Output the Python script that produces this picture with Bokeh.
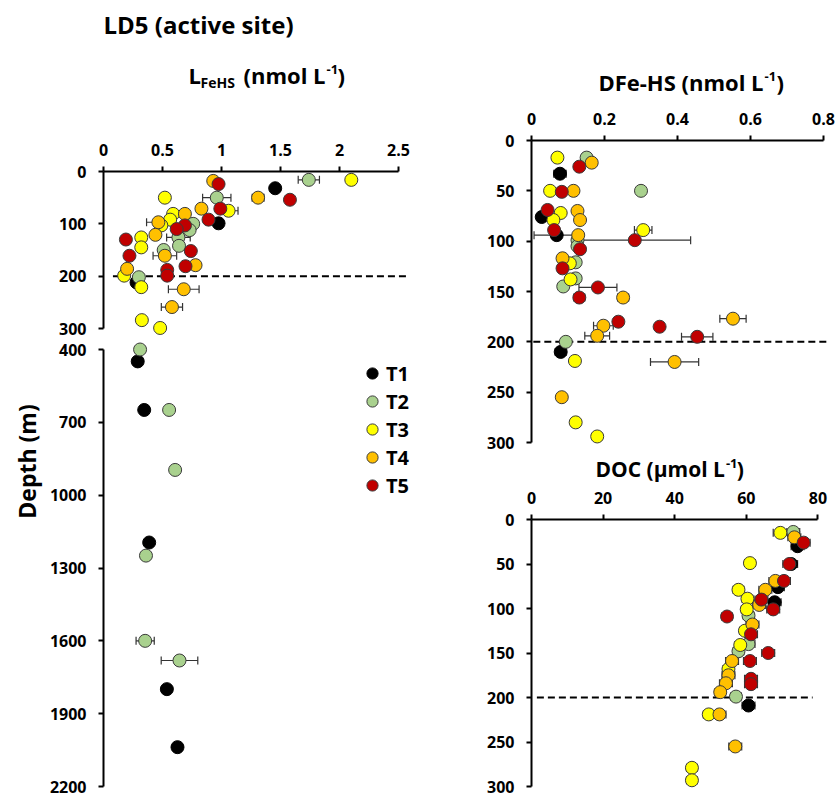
import math
from bokeh.plotting import figure
from bokeh.layouts import row, column
from bokeh.models import (Range1d, FixedTicker, NumeralTickFormatter, ColumnDataSource,
                          Whisker, TeeHead, Label, Legend, LegendItem)
from bokeh.embed import file_html
from bokeh.resources import INLINE

# ---------------- data ----------------
SERIES = ["T1", "T2", "T3", "T4", "T5"]
COLORS = ["#000000", "#a9d18e", "#ffff00", "#ffc000", "#c00000"]
REF_DEPTH = 200

# L_FeHS (nmol/L)
L_T1_depth = [32, 99, 212, 449, 649, 1195, 1799, 2038]
L_T1_val = [1.455, 0.975, 0.28, 0.29, 0.345, 0.387, 0.537, 0.627]
L_T1_err = [0, 0, 0, 0, 0, 0, 0, 0]
L_T2_depth = [16, 50, 100, 112, 126, 142, 150, 202, 400, 649, 896, 1249, 1600, 1681]
L_T2_val = [1.74, 0.96, 0.76, 0.73, 0.635, 0.64, 0.51, 0.30, 0.31, 0.556, 0.607, 0.36, 0.353, 0.644]
L_T2_err = [0.09, 0.12, 0, 0, 0.10, 0, 0, 0, 0, 0, 0, 0.03, 0.077, 0.155]
L_T3_depth = [16, 50, 75, 81, 92, 103, 126, 145, 199, 221, 284, 299]
L_T3_val = [2.10, 0.52, 1.06, 0.59, 0.565, 0.49, 0.32, 0.32, 0.175, 0.32, 0.325, 0.48]
L_T3_err = [0, 0, 0.08, 0, 0, 0, 0, 0, 0, 0, 0, 0]
L_T4_depth = [18, 50, 71, 81, 97, 121, 161, 179, 186, 225, 259]
L_T4_val = [0.93, 1.31, 0.83, 0.69, 0.465, 0.44, 0.52, 0.78, 0.20, 0.68, 0.58]
L_T4_err = [0, 0.05, 0, 0, 0.10, 0, 0.10, 0, 0, 0.13, 0.09]
L_T5_depth = [24, 54, 71, 92, 103, 110, 130, 152, 161, 181, 188, 199]
L_T5_val = [0.975, 1.58, 0.99, 0.89, 0.69, 0.62, 0.19, 0.74, 0.22, 0.695, 0.54, 0.54]
L_T5_err = [0, 0, 0, 0, 0, 0, 0, 0, 0, 0, 0, 0]

# DFe-HS (nmol/L)
D_T1_depth = [33, 76, 94, 210]
D_T1_val = [0.078, 0.028, 0.069, 0.080]
D_T1_err = [0.017, 0.012, 0.062, 0.015]
D_T2_depth = [17, 50, 99, 105, 121, 137, 145, 200]
D_T2_val = [0.151, 0.30, 0.126, 0.126, 0.121, 0.121, 0.087, 0.094]
D_T2_err = [0, 0, 0, 0, 0, 0, 0, 0]
D_T3_depth = [17, 50, 72, 79, 89, 122, 138, 219, 280, 294]
D_T3_val = [0.071, 0.051, 0.08, 0.06, 0.306, 0.105, 0.107, 0.119, 0.121, 0.18]
D_T3_err = [0, 0, 0, 0, 0.024, 0, 0, 0, 0, 0]
D_T4_depth = [22, 50, 70, 79, 94, 117, 156, 177, 184, 194, 220, 255]
D_T4_val = [0.165, 0.115, 0.126, 0.133, 0.128, 0.085, 0.251, 0.552, 0.197, 0.18, 0.392, 0.083]
D_T4_err = [0, 0, 0, 0, 0, 0, 0.015, 0.036, 0.027, 0.034, 0.066, 0]
D_T5_depth = [26, 51, 69, 89, 99, 108, 127, 146, 156, 180, 185, 195]
D_T5_val = [0.131, 0.083, 0.044, 0.062, 0.283, 0.133, 0.085, 0.182, 0.131, 0.238, 0.351, 0.454]
D_T5_err = [0, 0, 0, 0, 0.153, 0, 0, 0.052, 0.015, 0, 0, 0.043]

# DOC (umol/L)
C_T1_depth = [30, 50, 76, 93, 209]
C_T1_val = [74.3, 72.5, 68.8, 67.9, 60.6]
C_T1_err = [1.8, 1.8, 1.8, 1.8, 1.8]
C_T2_depth = [14, 108, 140, 148, 199]
C_T2_val = [73.1, 60.6, 60.6, 57.8, 57.1]
C_T2_err = [1.8, 1.5, 1.8, 1.5, 1.5]
C_T3_depth = [15, 49, 79, 89, 101, 125, 141, 168, 219, 279, 293]
C_T3_val = [69.5, 61.0, 57.8, 60.3, 60.1, 59.6, 58.3, 55.0, 49.5, 44.8, 44.8]
C_T3_err = [2.0, 1.5, 1.5, 1.5, 1.5, 1.5, 1.5, 1.5, 1.5, 1.5, 1.5]
C_T4_depth = [20, 69, 79, 96, 118, 159, 175, 184, 194, 219, 255]
C_T4_val = [73.4, 68.1, 65.3, 63.6, 61.7, 56.0, 55.0, 54.3, 52.7, 52.5, 56.9]
C_T4_err = [1.8, 1.8, 1.8, 1.8, 1.8, 1.8, 1.8, 1.8, 1.5, 1.8, 1.8]
C_T5_depth = [26, 50, 69, 90, 101, 109, 129, 150, 159, 179, 185]
C_T5_val = [76.0, 72.0, 70.5, 64.2, 67.5, 54.6, 61.3, 66.1, 61.0, 61.3, 61.3]
C_T5_err = [1.8, 1.8, 1.8, 1.8, 1.8, 1.5, 1.8, 1.8, 1.8, 1.8, 1.8]

L_XTICKS = [0, 0.5, 1, 1.5, 2, 2.5]
L_YTICKS_TOP = [0, 100, 200, 300]
L_YTICKS_BOT = [400, 700, 1000, 1300, 1600, 1900, 2200]
D_XTICKS = [0, 0.2, 0.4, 0.6, 0.8]
D_YTICKS = [0, 50, 100, 150, 200, 250, 300]
C_XTICKS = [0, 20, 40, 60, 80]
C_YTICKS = [0, 50, 100, 150, 200, 250, 300]

L_DATA = [(L_T1_depth, L_T1_val, L_T1_err), (L_T2_depth, L_T2_val, L_T2_err),
          (L_T3_depth, L_T3_val, L_T3_err), (L_T4_depth, L_T4_val, L_T4_err),
          (L_T5_depth, L_T5_val, L_T5_err)]
D_DATA = [(D_T1_depth, D_T1_val, D_T1_err), (D_T2_depth, D_T2_val, D_T2_err),
          (D_T3_depth, D_T3_val, D_T3_err), (D_T4_depth, D_T4_val, D_T4_err),
          (D_T5_depth, D_T5_val, D_T5_err)]
C_DATA = [(C_T1_depth, C_T1_val, C_T1_err), (C_T2_depth, C_T2_val, C_T2_err),
          (C_T3_depth, C_T3_val, C_T3_err), (C_T4_depth, C_T4_val, C_T4_err),
          (C_T5_depth, C_T5_val, C_T5_err)]

# ---------------- style ----------------
FONT = "Open Sans"
OUTLINE = "#3a3a3a"
MSIZE = 13
MID = 0.39  # vertical distance (in em) between text middle and baseline


def make_fig(w, h, left, right, top, bottom, xr, yr, xloc):
    p = figure(width=w, height=h, x_range=xr, y_range=yr, x_axis_location=xloc,
               output_backend="svg", toolbar_location=None,
               min_border_left=left, min_border_right=right,
               min_border_top=top, min_border_bottom=bottom)
    p.outline_line_color = None
    p.grid.visible = False
    p.background_fill_color = "white"
    p.border_fill_color = "white"
    return p


def text_fig(w, h, bl, br, bt, bb, ox, oy):
    """Blank figure whose data coordinates equal page pixels (frame = plot below)."""
    p = figure(width=w, height=h,
               x_range=Range1d(ox + bl, ox + w - br), y_range=Range1d(oy + h - bb, oy + bt),
               x_axis_location=None, y_axis_location=None,
               output_backend="svg", toolbar_location=None,
               min_border_left=bl, min_border_right=br,
               min_border_top=bt, min_border_bottom=bb)
    p.outline_line_color = None
    p.grid.visible = False
    p.background_fill_color = "white"
    p.border_fill_color = "white"
    return p


def style_axis(ax, ticks, bounds, standoff, fmt=None):
    ax.ticker = FixedTicker(ticks=ticks)
    ax.bounds = bounds
    ax.axis_line_width = 2
    ax.axis_line_color = "black"
    ax.major_tick_line_width = 2
    ax.major_tick_line_color = "black"
    ax.major_tick_out = 5
    ax.major_tick_in = 0
    ax.minor_tick_line_color = None
    ax.major_label_text_font = FONT
    ax.major_label_text_font_size = "16px"
    ax.major_label_text_font_style = "bold"
    ax.major_label_text_color = "black"
    ax.major_label_standoff = standoff
    if fmt:
        ax.formatter = NumeralTickFormatter(format=fmt)


def add_series(p, data, color, edmin, edmax):
    depth, val, err = data
    src = ColumnDataSource(dict(x=list(val), y=list(depth)))
    eidx = [i for i in range(len(depth)) if err[i] > 0 and edmin <= depth[i] <= edmax]
    if eidx:
        esrc = ColumnDataSource(dict(y=[depth[i] for i in eidx],
                                     lo=[val[i] - err[i] for i in eidx],
                                     hi=[val[i] + err[i] for i in eidx]))
        w = Whisker(source=esrc, base="y", lower="lo", upper="hi", dimension="width",
                    line_color="#333333", line_width=1.2,
                    lower_head=TeeHead(size=8, line_color="#333333", line_width=1.2),
                    upper_head=TeeHead(size=8, line_color="#333333", line_width=1.2))
        p.add_layout(w)
    return p.scatter("x", "y", source=src, size=MSIZE, fill_color=color,
                     line_color=OUTLINE if color != "#000000" else "#000000", line_width=1)


def add_dash(p, x0, x1):
    p.segment(x0=[x0], x1=[x1], y0=[REF_DEPTH], y1=[REF_DEPTH], line_color="black",
              line_width=2, line_dash="7 4")


def lab(p, text, x, base_y, size_px, align="left"):
    """Text whose baseline sits at page y = base_y."""
    p.add_layout(Label(x=x, y=base_y - MID * size_px, text=text,
                       text_font=FONT, text_font_size=f"{size_px}px", text_font_style="bold",
                       text_color="black", text_align=align, text_baseline="middle"))


# ---------------- left column ----------------
LX = 118.0  # px per nmol/L
A_W, A_H = 420, 240
A_L, A_R, A_T, A_B = 103, 12, 71, 4

# title strip (page y 0-100); label coordinates are page pixels
tA = text_fig(A_W, 100, A_L, A_R, 0, 0, 0, 0)
lab(tA, "LD5 (active site)", 103, 33, 24)
lab(tA, "L", 188, 83, 22)
lab(tA, "FeHS", 200, 87, 14)
lab(tA, "(nmol L", 325, 83, 22, align="right")
lab(tA, "-1", 326, 74, 13)
lab(tA, ")", 337, 83, 22)

# upper depth section 0-300 m (page y 100-340)
A_SCALE = 157.0 / 300.0
a_frame_w = A_W - A_L - A_R
a_frame_h = A_H - A_T - A_B
pA = make_fig(A_W, A_H, A_L, A_R, A_T, A_B,
              Range1d(0, a_frame_w / LX), Range1d(a_frame_h / A_SCALE, 0), "above")
style_axis(pA.xaxis[0], L_XTICKS, (0, 2.5), 11, "0.[0]")
style_axis(pA.yaxis[0], L_YTICKS_TOP, (0, 300), 12)
add_dash(pA, 0.08, 2.57)
for c, d in zip(COLORS, L_DATA):
    add_series(pA, d, c, 0, 340)

# lower depth section 400-2200 m (page y 340-798), with depth-label strip on its left
S_W = 45
B_W, B_H = 420 - S_W, 458
B_L, B_R, B_T, B_B = 103 - S_W, 0, 0, 5
B_SCALE = 437.0 / 1800.0
b_frame_w = B_W - B_L - B_R
b_frame_h = B_H - B_T - B_B
b_top_depth = 400 - 9 / B_SCALE
pB = make_fig(B_W, B_H, B_L, B_R, B_T, B_B,
              Range1d(0, b_frame_w / LX),
              Range1d(b_top_depth + b_frame_h / B_SCALE, b_top_depth), None)
style_axis(pB.yaxis[0], L_YTICKS_BOT, (400, 2200), 12)
rends = []
for c, d in zip(COLORS, L_DATA):
    rends.append(add_series(pB, d, c, 340, 3000))

legend = Legend(items=[LegendItem(label=s, renderers=[r]) for s, r in zip(SERIES, rends)],
                location=(255, 294),
                border_line_color=None, background_fill_alpha=0,
                padding=0, margin=0, spacing=0,
                glyph_height=28, glyph_width=28, label_height=28, label_standoff=0,
                label_text_font=FONT, label_text_font_size="20px",
                label_text_font_style="bold", label_text_color="black")
pB.add_layout(legend)

tS = text_fig(S_W, B_H, 0, 0, B_T, B_B, 0, 340)
tS.add_layout(Label(x=26, y=461, text="Depth (m)", text_font=FONT, text_font_size="23px",
                    text_font_style="bold", text_color="black", text_align="center",
                    text_baseline="middle", angle=math.pi / 2))

# ---------------- right column ----------------
R_W = 417
OX = 420
C_H = 354
C_L, C_R, C_T, C_B = 111, 6, 40, 5
tC = text_fig(R_W, 100, C_L, C_R, 0, 0, OX, 0)
lab(tC, "DFe-HS (nmol L", 763, 90, 22, align="right")
lab(tC, "-1", 764, 81, 13)
lab(tC, ")", 776, 90, 22)

DX = 365.0
D_SCALE = 302.0 / 300.0
c_frame_w = R_W - C_L - C_R
c_frame_h = C_H - C_T - C_B
pC = make_fig(R_W, C_H, C_L, C_R, C_T, C_B,
              Range1d(0, c_frame_w / DX), Range1d(c_frame_h / D_SCALE, 0), "above")
style_axis(pC.xaxis[0], D_XTICKS, (0, 0.8), 11, "0.[0]")
style_axis(pC.yaxis[0], D_YTICKS, (0, 300), 12)
add_dash(pC, 0.005, 0.81)
for c, d in zip(COLORS, D_DATA):
    add_series(pC, d, c, 0, 400)

TD_Y, TD_H = 454, 30
E_H = 798 - TD_Y - TD_H
E_L, E_R, E_T, E_B = 107, 6, 35, 5
tD = text_fig(R_W, TD_H, E_L, E_R, 0, 0, OX, TD_Y)
lab(tD, "DOC (\u00b5mol L", 723, 477, 21, align="right")
lab(tD, "-1", 724, 468, 13)
lab(tD, ")", 735, 477, 21)

EX = 290.3 / 80.0
E_SCALE = 267.0 / 300.0
e_frame_w = R_W - E_L - E_R
e_frame_h = E_H - E_T - E_B
pD = make_fig(R_W, E_H, E_L, E_R, E_T, E_B,
              Range1d(0, e_frame_w / EX), Range1d(e_frame_h / E_SCALE, 0), "above")
style_axis(pD.xaxis[0], C_XTICKS, (0, 80), 11)
style_axis(pD.yaxis[0], C_YTICKS, (0, 300), 12)
add_dash(pD, 1.5, 78.5)
for c, d in zip(COLORS, C_DATA):
    add_series(pD, d, c, 0, 400)

layout = row(column(tA, pA, row(tS, pB)), column(tC, pC, tD, pD))
open("out.html", "w").write(file_html(layout, INLINE))
